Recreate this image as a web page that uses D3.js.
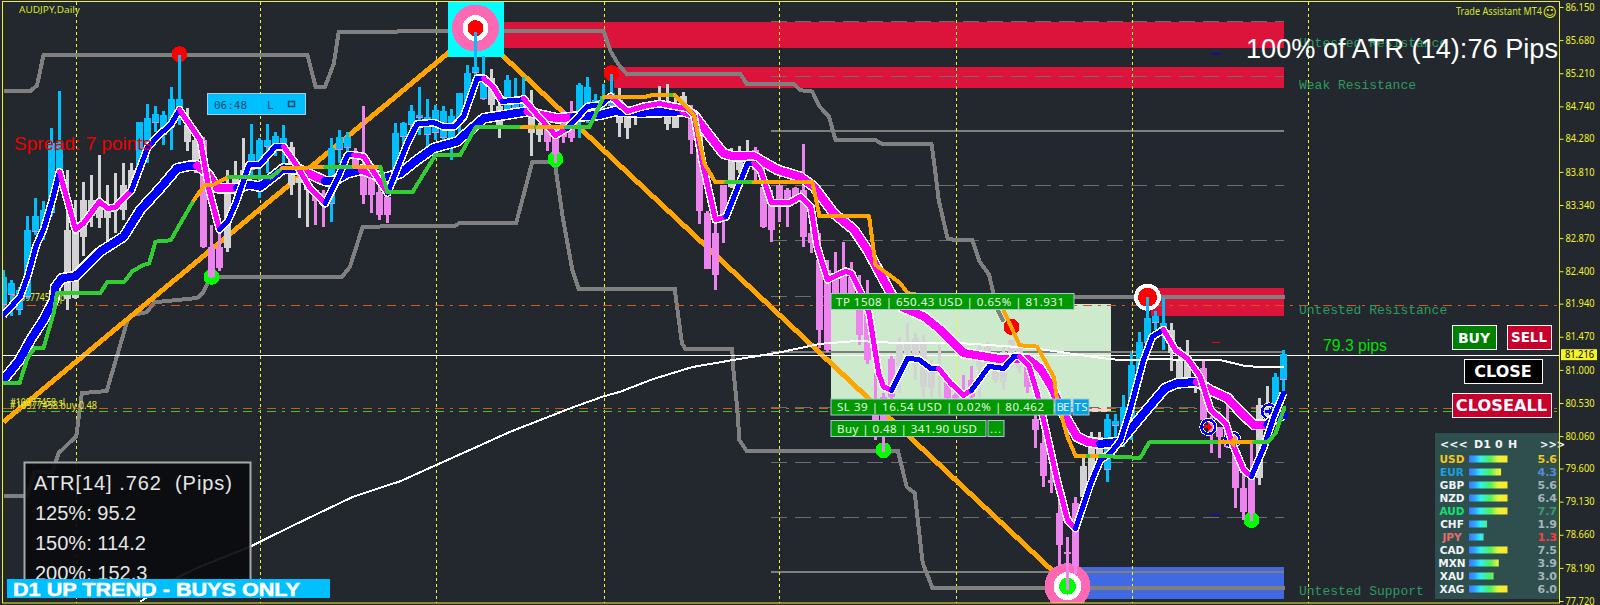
<!DOCTYPE html>
<html><head><meta charset="utf-8">
<style>html,body{margin:0;padding:0;background:#22282d;overflow:hidden}svg{display:block}</style>
<script src="https://cdn.jsdelivr.net/npm/d3@7"></script></head><body><div id="c"></div>
<script>
const yTicks=[86.15,85.68,85.21,84.74,84.28,83.81,83.34,82.87,82.40,81.94,81.47,81.00,80.53,80.06,79.60,79.13,78.66,78.19,77.72];
const lastPrice=81.216;
const candleStates=("uuuuuuuu nnnnnnnnn uuuuuu nn ddd nnn uuuuu nnn dd uuu ddddd uuuuuuuuuuuu nn uuu nn dddd uuuuu nnnnnnnnn ddddd nnn dddddddddddddddddd nnnnnn dddd nnnnnn ddddddd nnn uuuuuuuu nnnn ddddddd nn uu").replace(/ /g,"");
const candleHigh=[82.42,82.28,82.18,83.18,83.44,83.39,84.43,84.96,83.84,83.41,83.66,83.77,84.05,83.63,83.79,83.93,83.93,84.52,84.78,84.74,84.67,85.01,85.47,84.71,84.45,84.31,83.06,82.96,83.84,83.96,84.29,84.49,84.29,84.49,84.38,84.48,84.24,83.74,83.74,83.55,83.55,84.29,84.41,84.38,84.15,84.74,83.84,83.67,83.53,84.5,
84.52,84.76,85.01,84.85,84.76,84.74,84.7,84.93,85.33,85.8,85.45,85.27,84.83,85.19,85.14,85.16,84.97,84.5,84.5,84.45,84.69,84.82,85.07,85.15,84.92,85.06,85.2,85.0,84.74,84.76,84.78,84.81,85.03,85.06,84.9,84.94,84.76,84.48,83.25,83.2,83.63,84.15,84.18,84.26,84.17,83.93,83.55,83.63,83.58,83.6,
84.21,82.99,82.94,82.56,82.68,82.82,82.53,82.34,82.28,81.19,80.67,81.19,81.47,81.66,81.52,81.5,81.14,81.35,80.9,80.67,80.93,81.05,81.38,81.4,81.26,81.33,81.43,81.33,81.14,80.57,80.29,79.96,79.44,78.63,79.2,79.77,80.12,80.12,80.38,80.38,80.64,81.24,81.54,82.04,81.83,82.02,81.66,81.33,81.43,80.9,81.14,80.34,80.19,80.5,80.12,79.56,79.96,80.6,80.77,80.96,81.28];
const candleLow=[81.8,81.76,81.78,82.0,82.91,82.84,83.18,83.6,81.85,82.0,82.61,83.03,83.01,82.8,82.94,83.13,83.55,83.79,83.93,84.38,84.19,84.12,84.48,84.1,83.79,82.73,82.3,82.4,82.68,83.46,83.7,83.74,83.44,83.79,84.03,83.93,83.48,83.15,83.03,83.06,83.03,83.1,83.93,84.0,83.79,83.36,83.22,83.13,83.08,83.65,
84.03,84.36,84.33,84.15,84.26,84.22,83.98,84.36,84.64,85.11,84.83,84.62,84.29,84.59,84.62,84.59,84.04,84.24,84.1,83.93,84.22,84.23,84.29,84.5,84.59,84.67,84.69,84.31,84.27,84.48,84.59,84.62,84.6,84.4,84.43,84.59,84.07,83.07,82.43,82.14,82.8,83.58,83.79,83.89,83.7,83.01,82.82,83.1,83.03,83.36,
82.75,82.66,81.31,81.25,82.03,82.02,82.0,81.35,81.09,80.0,79.84,80.57,80.67,81.14,80.86,80.62,80.62,80.62,80.57,80.57,80.57,80.6,80.62,80.9,80.81,80.72,81.14,80.95,80.67,79.89,79.34,79.25,78.21,77.88,78.11,79.15,79.39,79.58,79.41,79.82,79.91,80.0,80.76,81.14,81.57,81.28,80.98,80.83,80.86,80.67,80.24,79.82,79.75,79.89,79.04,78.87,78.85,79.37,80.29,80.29,80.69];
const bodyTop=[82.32,82.23,82.13,82.99,83.18,83.27,84.22,84.22,82.99,82.99,83.41,83.41,83.41,83.27,83.36,83.63,83.84,84.52,84.57,84.63,84.62,84.85,84.85,84.48,84.26,84.26,82.75,82.75,83.51,83.74,83.84,84.07,84.26,84.26,84.32,84.29,84.17,83.72,83.67,83.55,83.51,84.15,84.31,84.31,84.07,83.79,83.79,83.53,83.46,84.36,
84.5,84.67,84.62,84.59,84.69,84.67,84.6,84.93,85.21,85.3,85.16,85.14,84.74,85.11,84.83,84.88,84.64,84.43,84.43,84.31,84.62,84.55,85.04,85.02,84.83,84.88,84.93,84.83,84.67,84.74,84.76,84.76,84.78,84.81,84.76,84.88,84.64,84.36,83.22,82.94,83.63,83.98,83.98,84.1,84.12,83.6,83.34,83.63,83.55,83.58,
83.55,82.94,82.56,82.42,82.3,82.42,82.32,82.1,81.8,80.38,80.62,81.16,81.35,81.4,81.45,81.4,80.98,81.05,80.83,80.64,80.72,80.86,81.26,81.33,81.14,81.26,81.42,81.31,81.05,80.31,79.96,79.44,78.97,78.42,79.11,79.63,80.05,80.05,80.31,80.27,80.48,81.07,81.4,81.74,81.77,81.66,81.57,81.16,81.14,80.86,81.02,80.27,80.19,80.12,79.86,79.32,79.46,80.5,80.5,80.9,81.23];
const bodyBottom=[81.92,82.06,81.85,82.04,82.96,82.99,83.22,83.84,82.0,82.02,82.89,83.18,83.15,83.15,83.27,83.27,83.6,83.84,84.12,84.5,84.33,84.45,84.71,84.24,83.89,82.75,82.32,82.44,82.73,83.51,83.77,83.84,83.89,84.17,84.17,84.17,83.63,83.65,83.55,83.39,83.36,83.36,84.12,84.15,83.89,83.48,83.48,83.2,83.2,83.79,
84.31,84.48,84.57,84.33,84.36,84.29,84.26,84.5,84.78,85.21,84.85,84.76,84.45,84.64,84.71,84.64,84.36,84.33,84.23,84.07,84.31,84.29,84.57,84.59,84.64,84.74,84.74,84.5,84.43,84.64,84.64,84.64,84.62,84.49,84.43,84.64,84.26,83.25,82.43,82.35,83.18,83.6,83.84,83.93,83.84,83.03,82.99,83.41,83.32,83.46,
82.89,82.8,81.57,81.28,82.06,82.06,82.09,81.5,81.14,80.15,80.05,80.62,81.05,81.24,81.07,80.76,80.74,80.95,80.6,80.6,80.6,80.62,81.05,81.02,80.86,80.83,81.16,81.02,80.76,80.15,79.49,79.39,78.52,78.39,78.21,79.2,79.44,79.72,79.58,80.2,80.0,80.29,80.86,81.38,81.66,81.57,81.24,80.86,80.88,80.76,80.29,80.1,80.05,79.91,79.32,78.99,78.97,79.46,80.31,80.38,80.86];
const fastLine=[[0,81.78,"b"],[2.1,82.04,"b"],[3,82.32,"b"],[4.1,82.77,"b"],[5,82.99,"b"],[6.1,83.41,"b"],[7,83.81,"m"],[9,82.99,"m"],[10,83.08,"m"],[12,83.39,"m"],[13,83.29,"m"],[14,83.31,"m"],[16,83.55,"b"],[18,84.15,"b"],[19.2,84.31,"b"],[20.9,84.48,"b"],[22,84.69,"m"],[24.6,84.26,"m"],[25.7,83.55,"m"],[27,82.99,"b"],[28,83.1,"b"],[29,83.36,"b"],[30.7,83.91,"b"],[32,83.91,"b"],[34,84.17,"b"],[35,84.17,"m"],[36.5,83.93,"m"],[38.2,83.6,"m"],[40.2,83.36,"b"],[41.7,83.7,"b"],[43,84.05,"b"],[43.8,84.05,"m"],[45,84.03,"m"],[48,83.51,"b"],[50.5,84.22,"b"],[51.7,84.49,"b"],[53.8,84.51,"b"],[55,84.45,"b"],[56.3,84.45,"b"],[57.5,84.59,"b"],[59.2,85.14,"b"],[60,85.14,"m"],[61.3,85.0,"m"],[62.3,84.81,"b"],[64.6,84.83,"b"],[65,84.85,"m"],[66.7,84.62,"m"],[69,84.33,"m"],[70.5,84.43,"b"],[73,84.74,"b"],[74.6,84.76,"b"],[75.9,84.88,"m"],[78,84.67,"m"],[80,84.74,"m"],[82,84.78,"m"],[83.8,84.74,"m"],[85.5,84.71,"m"],[86.3,84.62,"m"],[87.3,83.98,"m"],[89,83.13,"m"],[90.3,83.17,"b"],[93,83.93,"b"],[93.8,83.93,"m"],[94.6,83.84,"m"],[96,83.37,"m"],[98.2,83.37,"m"],[99.6,83.46,"m"],[100.9,83.32,"m"],[101.7,82.75,"m"],[103,82.28,"m"],[105.3,82.4,"m"],[106,82.37,"m"],[107.6,82.0,"m"],[108.2,81.8,"m"],[109.4,80.95,"m"],[110,80.76,"m"],[111,80.71,"b"],[113,81.16,"b"],[114.4,81.15,"b"],[115.9,81.02,"b"],[116.9,81.02,"m"],[118.4,80.81,"m"],[120,80.64,"m"],[121,80.71,"b"],[123.2,81.05,"b"],[125,81.02,"b"],[126.3,81.19,"b"],[127,81.19,"m"],[128.2,81.05,"m"],[129.2,80.67,"m"],[130.3,80.15,"m"],[131.7,79.44,"m"],[133,78.87,"m"],[134,78.75,"b"],[135.9,79.39,"b"],[137.1,79.72,"b"],[138.4,79.82,"b"],[139.6,80.0,"b"],[140.7,80.38,"b"],[142.5,81.14,"b"],[143.6,81.47,"b"],[145,81.57,"m"],[146.5,81.28,"m"],[148,81.16,"m"],[149.6,80.9,"m"],[150.9,80.43,"m"],[152.8,80.24,"m"],[153.6,79.96,"m"],[155,79.58,"m"],[156,79.49,"b"],[157.5,79.89,"b"],[158.8,80.34,"b"],[160,80.67,"b"]];
const slowLine=[[0,80.86,"b"],[2,81.14,"b"],[3.4,81.43,"b"],[5,81.71,"b"],[6.3,81.99,"b"],[6.5,82.18,"b"],[7.3,82.3,"b"],[9,82.33,"b"],[12.1,82.68,"b"],[15,82.89,"b"],[17.1,83.27,"b"],[19.6,83.58,"b"],[21.7,83.86,"b"],[23.4,83.9,"b"],[24.2,83.9,"m"],[25.5,83.79,"m"],[26.7,83.58,"m"],[29.2,83.58,"b"],[30.7,83.63,"b"],[32.1,83.6,"b"],[35,83.86,"b"],[37.1,83.84,"m"],[40.2,83.68,"b"],[41.3,83.68,"b"],[43,83.79,"b"],[44.8,83.84,"m"],[47.5,83.72,"b"],[49.6,83.79,"b"],[51.7,83.98,"b"],[53.8,84.15,"b"],[56.7,84.24,"b"],[58.6,84.43,"b"],[60,84.57,"b"],[65.5,84.67,"m"],[67.1,84.62,"m"],[69.2,84.57,"m"],[71.3,84.59,"b"],[74.6,84.62,"b"],[76.3,84.67,"b"],[79.6,84.65,"b"],[85,84.67,"m"],[86.3,84.62,"m"],[88,84.36,"m"],[90,84.07,"m"],[91.3,84.03,"m"],[93.8,84.03,"m"],[96.7,83.84,"m"],[99.6,83.74,"m"],[101.3,83.6,"m"],[103.8,83.22,"m"],[106.3,82.99,"m"],[108,82.7,"m"],[110.9,82.09,"m"],[112.1,81.9,"m"],[115,81.76,"m"],[117.1,81.57,"m"],[120,81.24,"m"],[124.2,81.16,"m"],[128,81.16,"m"],[129.6,81.02,"m"],[131,80.76,"m"],[132.5,80.38,"m"],[134.2,80.05,"m"],[135.5,79.98,"m"],[137.1,79.95,"b"],[139.6,79.98,"b"],[142.5,80.38,"b"],[145.2,80.74,"b"],[146.7,80.81,"b"],[149.2,80.83,"m"],[150.9,80.71,"m"],[153,80.6,"m"],[154.8,80.38,"m"],[156.3,80.22,"m"],[158,80.22,"b"],[158.8,80.31,"b"],[160,80.36,"b"]];
const stepLine=[[0,80.81,"g"],[2,80.81,"g"],[3,81.17,"g"],[3.9,81.31,"g"],[5,81.31,"g"],[6.3,81.82,"g"],[6.7,82.09,"g"],[12.1,82.09,"g"],[13,82.25,"g"],[15.1,82.25,"g"],[16.1,82.4,"g"],[17.5,82.49,"g"],[18.2,82.51,"g"],[19,82.82,"g"],[20.9,82.84,"g"],[23.8,83.41,"o"],[25.1,83.62,"o"],[26.3,83.63,"o"],[28.2,83.74,"g"],[33.4,83.73,"g"],[34.8,83.86,"o"],[40.2,83.88,"g"],[43.8,83.88,"o"],[47.1,83.88,"g"],[48,83.52,"g"],[51.1,83.52,"g"],[54,84.05,"g"],[57.1,84.05,"g"],[59,84.44,"g"],[64.8,84.44,"o"],[66.5,84.44,"g"],[66.8,84.44,"o"],[70.3,84.44,"g"],[73.2,84.44,"g"],[75,84.87,"o"],[80.5,84.88,"o"],[81,84.9,"o"],[83.4,84.9,"g"],[83.9,84.9,"o"],[86.3,84.62,"o"],[87.6,83.93,"o"],[89,83.66,"o"],[90.3,83.66,"g"],[93.8,83.66,"o"],[99.6,83.66,"o"],[101.1,83.67,"o"],[102,83.18,"o"],[108.2,83.18,"o"],[109,82.49,"o"],[112.1,82.23,"o"],[113,82.09,"o"],[115,82.05,"o"],[124.5,82.0,"o"],[125,81.85,"o"],[127,81.35,"o"],[129.2,81.33,"o"],[131.3,80.9,"o"],[131.7,80.57,"o"],[133,80.05,"o"],[134,79.78,"o"],[135.5,79.78,"g"],[136,79.78,"o"],[137.1,79.78,"g"],[142.1,79.75,"g"],[143.2,79.97,"g"],[152,79.97,"o"],[156.3,79.97,"g"],[158,79.97,"g"],[159,80.1,"g"],[160.1,80.46,"g"]];
const zigzag=[[0,80.26],[59,85.82],[133,77.95]];
const upperChannel=[[0,84.96],[3.4,84.96],[4.2,85.04],[5,85.47],[38,85.47],[39,85.02],[40.2,85.02],[41.3,85.35],[41.9,85.8],[75,85.81],[75.9,85.52],[76.9,85.33],[77.9,85.2],[92.1,85.2],[92.9,85.06],[98.8,85.06],[99.6,84.97],[101.1,84.95],[102,84.74],[103.2,84.59],[104,84.26],[109,84.26],[109.8,84.21],[116,84.21],[116.5,83.79],[116.9,83.41],[118,82.87],[119,82.84],[121.1,82.84],[122,82.54],[123.2,82.35],[123.8,82.06],[124.3,81.85],[125,81.68]];
const upperTail=[[127,82.03],[160.2,82.03]];
const lowerChannel=[[0,79.21],[2.9,79.21],[3.9,79.55],[6.1,79.55],[6.9,79.82],[9.1,80.06],[9.8,80.67],[12.9,80.7],[15.6,81.74],[16.2,81.78],[17.9,81.82],[18.9,81.96],[24.2,82.02],[24.9,82.09],[25.9,82.32],[42.3,82.32],[43.3,82.46],[44.9,83.03],[49.6,83.04],[56.4,83.04],[57.1,83.09],[64.1,83.09],[66.1,83.95],[68.9,83.95],[69.9,83.17],[71.1,82.42],[71.9,82.15],[83.9,82.15],[84.2,81.89],[84.8,81.38],[85.2,81.3],[91.1,81.3],[91.2,81.04],[91.7,80.47],[92,80.0],[92.9,79.85],[111.8,79.85],[112.9,79.34],[113.9,79.25],[114.9,78.26],[116.1,77.91],[160.2,77.91]];
const longMA=[[17.1,77.71],[21.7,78.05],[24.2,78.19],[30.8,78.49],[35.8,78.77],[43.7,79.2],[49.6,79.42],[53.9,79.64],[59.6,79.93],[63.3,80.12],[71.2,80.47],[74.9,80.62],[77.1,80.69],[81.2,80.87],[86.1,81.04],[91.2,81.14],[97.1,81.25],[102.1,81.37],[106.7,81.41],[112.1,81.38],[119.6,81.38],[128.7,81.31],[137.1,81.17],[139.6,81.14],[144,81.15],[152.1,81.14],[155,81.06],[157,81.04],[160,81.04]];
const dateSeparators=[9,32,54,75,97,119,141,163];
const levelSolid=[84.39,81.25,78.13];
const levelDashed=[85.94,85.16,83.61,82.83,82.04,80.47,79.69,78.91];
const zonesRed=[[62.5,85.94,85.57],[76.25,85.30,85.0],[143.4,82.16,81.77]];
const zonesBlue=[[132.1,78.2,77.75]];
const redDots=[[22,85.48],[76,85.21],[126,81.61]];
const greenDots=[[26,82.32],[69,83.99],[110,79.86],[156,78.87]];
const tradeLevels={tp:81.931,sl:80.462,entry:80.42};
const currencies=["USD","EUR","GBP","NZD","AUD","CHF","JPY","CAD","MXN","XAU","XAG"];
const strengths=[5.6,4.3,5.6,6.4,7.7,1.9,1.3,7.5,3.9,3.0,6.0];
const nameColors=["#f7c61c","#1c9fe0","#f0f4f6","#f0f4f6","#14e070","#f0f4f6","#e86c6c","#f0f4f6","#f0f4f6","#f0f4f6","#f0f4f6"];
const valueColors=["#f7c61c","#5a8ad8","#a8b4b8","#a8b4b8","#3c9a6c","#a8b4b8","#ff3c3c","#a8b4b8","#a8b4b8","#a8b4b8","#a8b4b8"];

const W=1600,H=605;
const svg=d3.select("#c").append("svg").attr("width",W).attr("height",H);
svg.append("rect").attr("width",W).attr("height",H).attr("fill","#22282d");
const x=d3.scaleLinear().domain([0,160]).range([3.5,1283.5]);
const y=d3.scaleLinear().domain([86.15,77.72]).range([7,601]);
const line=d3.line().x(d=>x(d[0])).y(d=>y(d[1]));
const SANS="'Liberation Sans',Arial,sans-serif", UI="'Noto Sans',sans-serif", BOLD="'DejaVu Sans',sans-serif", MONO="'Liberation Mono',monospace";
const plot=svg.append("g").attr("shape-rendering","crispEdges");
svg.append("clipPath").attr("id","pc").append("rect").attr("x",3).attr("y",2).attr("width",1556).attr("height",601);
plot.attr("clip-path","url(#pc)");

// trade rectangle
const rx0=830.5,rx1=1111;
plot.append("rect").attr("x",rx0).attr("y",y(tradeLevels.tp)).attr("width",rx1-rx0).attr("height",y(tradeLevels.sl)-y(tradeLevels.tp)).attr("fill","#cdeacd");
plot.append("rect").attr("x",rx0).attr("y",y(tradeLevels.sl)).attr("width",rx1-rx0).attr("height",y(tradeLevels.entry)-y(tradeLevels.sl)+1).attr("fill","#ffcfcf");

// supply / demand zones
plot.selectAll(".zr").data(zonesRed).join("rect").attr("x",d=>x(d[0])).attr("y",d=>y(d[1])).attr("width",d=>x(160)-x(d[0])).attr("height",d=>y(d[2])-y(d[1])).attr("fill","#dc143c");
plot.selectAll(".zb").data(zonesBlue).join("rect").attr("x",d=>x(d[0])).attr("y",d=>y(d[1])).attr("width",d=>x(160)-x(d[0])).attr("height",d=>y(d[2])-y(d[1])).attr("fill","#4169e1");

// horizontal levels
const lx0=771;
plot.selectAll(".ls").data(levelSolid).join("line").attr("x1",lx0).attr("x2",1284).attr("y1",d=>y(d)).attr("y2",d=>y(d)).attr("stroke","#7f7f7f").attr("stroke-width",2);
plot.selectAll(".ld").data(levelDashed).join("line").attr("x1",lx0).attr("x2",1284).attr("y1",d=>y(d)).attr("y2",d=>y(d)).attr("stroke","#6e6e6e").attr("stroke-width",1).attr("stroke-dasharray","16 8");

// separators
plot.selectAll(".sep").data(dateSeparators).join("line").attr("x1",d=>Math.round(x(d))+.5).attr("x2",d=>Math.round(x(d))+.5).attr("y1",2).attr("y2",603).attr("stroke","#f4f22a").attr("stroke-width",1).attr("stroke-dasharray","3 3");

// channels + zigzag
[upperChannel,upperTail,lowerChannel].forEach(c=>plot.append("path").attr("d",line(c)).attr("fill","none").attr("stroke","#808080").attr("stroke-width",4));
plot.append("path").attr("d",line(zigzag)).attr("fill","none").attr("stroke","#ffa500").attr("stroke-width",5);

// dash-dot trade lines
[[tradeLevels.tp-0.005,"#d9541e"],[tradeLevels.sl+0.002,"#d9541e"],[tradeLevels.entry,"#32cd32"]].forEach(([v,c])=>plot.append("line").attr("x1",3).attr("x2",1559).attr("y1",Math.round(y(v))+.5).attr("y2",Math.round(y(v))+.5).attr("stroke",c).attr("stroke-width",1).attr("stroke-dasharray","9 6 3 6"));
plot.append("line").attr("x1",3).attr("x2",1559).attr("y1",Math.round(y(lastPrice))+.5).attr("y2",Math.round(y(lastPrice))+.5).attr("stroke","#ffffff").attr("stroke-width",1);

// order labels (under the lines)
const lab=(t,xx,yy,l)=>plot.append("text").attr("x",xx).attr("y",yy).attr("fill","#e8e82c").attr("font-family",UI).attr("font-size",10).attr("textLength",l).attr("lengthAdjust","spacingAndGlyphs").text(t);
lab("#10977458 tp",10,301,55);lab("#10977458 sl",10,406,55);lab("#10977458 buy 0.48",10,409,87);

// markers under the candles
const tTop=plot.append("g").attr("transform",`translate(${x(59)},${y(85.85)})`);
tTop.append("rect").attr("x",-28).attr("y",-27).attr("width",56).attr("height",56).attr("fill","#00ffff");
[[23.5,"#ff69b4"],[13,"#ffffff"],[8,"#ff0000"]].forEach(([r,c])=>tTop.append("circle").attr("r",r).attr("fill",c));
const tBot=plot.append("g").attr("transform",`translate(${x(133)},${y(77.93)})`);
[[23,"#ff69b4"],[14,"#ffffff"],[8.5,"#00ff00"]].forEach(([r,c])=>tBot.append("circle").attr("r",r).attr("fill",c));
const tRing=plot.append("g").attr("transform",`translate(${x(143)},${y(82.03)})`);
[[13.5,"#ffffff"],[9.5,"#ff0000"]].forEach(([r,c])=>tRing.append("circle").attr("r",r).attr("fill",c));
plot.selectAll(".rd").data(redDots).join("circle").attr("cx",d=>x(d[0])).attr("cy",d=>y(d[1])).attr("r",8).attr("fill","#ff0000");
plot.selectAll(".gd").data(greenDots).join("circle").attr("cx",d=>x(d[0])).attr("cy",d=>y(d[1])).attr("r",8).attr("fill","#00ff00");

// candles
const candles=d3.range(candleHigh.length).map(i=>({i,h:candleHigh[i],l:candleLow[i],t:bodyTop[i],b:bodyBottom[i],s:candleStates[i]}));
const cCol={u:"#00bfff",d:"#ee82ee",n:"#d3d3d3"};
const cg=plot.append("g");
cg.selectAll(".w").data(candles).join("rect").attr("x",d=>x(d.i)-1.5).attr("width",3).attr("y",d=>y(d.h)).attr("height",d=>y(d.l)-y(d.h)).attr("fill",d=>cCol[d.s]);
cg.selectAll(".b").data(candles).join("rect").attr("x",d=>x(d.i)-3.5).attr("width",7).attr("y",d=>y(d.t)).attr("height",d=>Math.max(1,y(d.b)-y(d.t))).attr("fill",d=>cCol[d.s]);
cg.selectAll(".m").data(candles.filter(d=>d.s==="u")).join("rect").attr("x",d=>x(d.i)-3.5).attr("width",7).attr("y",d=>y(d.b)-1).attr("height",1).attr("fill","#ee82ee");

// long MA
plot.append("path").attr("d",line(longMA)).attr("fill","none").attr("stroke","#ffffff").attr("stroke-width",2);

// small signal marks
const ring=(b,p,dir,c)=>{const g=plot.append("g").attr("transform",`translate(${x(b)},${y(p)})`);
  g.append("circle").attr("r",7).attr("fill","none").attr("stroke","#fff").attr("stroke-width",4);
  g.append("circle").attr("r",7).attr("fill","none").attr("stroke","#0000ff").attr("stroke-width",2.5);
  if(dir)g.append("path").attr("d","M-4,-1.5H0V-4L4,0L0,4V1.5H-4Z").attr("fill",c);};
ring(150.6,80.19,1,"#ff0000");ring(153.6,80.01,0);ring(158.2,80.41,1,"#0000ff");

function runs(pts){const out=[];let cur=null;for(let k=0;k<pts.length-1;k++){const c=pts[k][2];if(!cur||cur.c!==c){cur={c,p:[pts[k]]};out.push(cur);}cur.p.push(pts[k+1]);}return out;}
const bandCol={b:"#0000ff",m:"#ff00ff",g:"#32cd32",o:"#ffa500"};
function band(pts,w,halo){
  if(halo)plot.append("path").attr("d",line(pts)).attr("fill","none").attr("stroke","#fff").attr("stroke-width",w+halo).attr("stroke-linejoin","round");
  runs(pts).forEach(r=>plot.append("path").attr("d",line(r.p)).attr("fill","none").attr("stroke",bandCol[r.c]).attr("stroke-width",w).attr("stroke-linejoin","round").attr("stroke-linecap","round"));
}
band(slowLine,8,3);
band(fastLine,5,3);
band(stepLine,4,0);
plot.append("path").attr("d",`M${x(153.2)},${y(79.98)}l6,-7v14z`).attr("fill","#ffa500");
[[151,85.5,"#0000ff"],[151,81.39,"#ff0000"],[151,78.94,"#0000ff"]].forEach(([b,p,c])=>plot.append("rect").attr("x",x(b)).attr("y",y(p)).attr("width",8).attr("height",1).attr("fill",c));

// labels in plot
const T=(t,xx,yy,o)=>{const e=svg.append("text").attr("x",xx).attr("y",yy).attr("xml:space","preserve").style("white-space","pre").text(t);
  Object.entries(o).forEach(([k,v])=>e.attr(k,v));return e;};
T("Untested Resistance",1299,47,{"font-family":MONO,"font-size":13,fill:"#2e9b60"});
T("Weak Resistance",1299,89,{"font-family":MONO,"font-size":13,fill:"#2e9b60"});
T("Untested Resistance",1299,314,{"font-family":MONO,"font-size":13,fill:"#2e9b60"});
T("Untested Support",1299,595,{"font-family":MONO,"font-size":13,fill:"#2e9b60"});
T("100% of ATR (14):76 Pips",1246,58,{"font-family":SANS,"font-size":28,fill:"#ffffff",textLength:312,lengthAdjust:"spacingAndGlyphs"});
T("79.3 pips",1323,351,{"font-family":SANS,"font-size":16.5,fill:"#00e000",textLength:64,lengthAdjust:"spacingAndGlyphs"});
T("Spread: 7 points",14,150,{"font-family":SANS,"font-size":19,fill:"#ee0000",textLength:138,lengthAdjust:"spacingAndGlyphs"});
T("AUDJPY,Daily",19,13,{"font-family":UI,"font-size":9.5,fill:"#d4e630",textLength:61,lengthAdjust:"spacingAndGlyphs"});
T("Trade Assistant MT4",1456,14.5,{"font-family":UI,"font-size":10.5,fill:"#d4e630",textLength:86,lengthAdjust:"spacingAndGlyphs"});
T("☺",1542.5,16.5,{"font-family":"'DejaVu Sans'","font-size":14,fill:"#e8e82c"});

// timer
svg.append("rect").attr("x",207.5).attr("y",93.5).attr("width",98).attr("height",21).attr("fill","#00bfff").attr("stroke","#a6cfe6");
T("06:48",214,109,{"font-family":"'DejaVu Sans Mono'","font-size":11,fill:"#1c4a6a"});
T("L",267,109,{"font-family":"'DejaVu Sans Mono'","font-size":11,fill:"#1c4a6a"});
svg.append("rect").attr("x",288.5).attr("y",101.5).attr("width",6).attr("height",5).attr("fill","none").attr("stroke","#1c4a6a").attr("stroke-width",1.5);

// ATR box
svg.append("rect").attr("x",24.5).attr("y",462.5).attr("width",226).attr("height",125).attr("fill","#0a0c0e").attr("fill-opacity",.93).attr("stroke","#a9a9a9").attr("stroke-width",2);
T("ATR[14] .762  (Pips)",34,490,{"font-family":SANS,"font-size":20,fill:"#e6e6e6",textLength:198});
T("125%: 95.2",35,520,{"font-family":SANS,"font-size":20,fill:"#e6e6e6"});
T("150%: 114.2",35,550,{"font-family":SANS,"font-size":20,fill:"#e6e6e6"});
T("200%: 152.3",35,580,{"font-family":SANS,"font-size":20,fill:"#e6e6e6"});
svg.append("rect").attr("x",7).attr("y",579).attr("width",323).attr("height",19).attr("fill","#00bfff");
T("D1 UP TREND - BUYS ONLY",13,595.5,{"font-family":SANS,"font-weight":"bold","font-size":19,fill:"#ffffff",textLength:287,lengthAdjust:"spacingAndGlyphs",stroke:"#ffffff","stroke-width":.5});

// trade labels
const tag=(xx,yy,w,h,c,t,tx,tl)=>{svg.append("rect").attr("x",xx+.5).attr("y",yy+.5).attr("width",w).attr("height",h).attr("fill",c).attr("stroke","#a5c9d6");
  T(t,tx,yy+h-3.5,{"font-family":UI,"font-size":11.5,fill:"#e6f5e6",...(tl?{textLength:tl}:{})});};
tag(830.5,293,243,16,"#009900","TP 1508 | 650.43 USD | 0.65% | 81.931",836,228);
tag(830.5,398.5,223,16,"#009900","SL 39 | 16.54 USD | 0.02% | 80.462",837,207);
tag(1054.5,398.5,16,16,"#00a2e8","BE",1056.5,13);
tag(1072.5,398.5,16,16,"#00a2e8","TS",1074.5,13);
tag(830.5,420,155,16,"#009900","Buy | 0.48 | 341.90 USD",837,140);
tag(987.5,420,16,16,"#009900","...",990,11);

// buttons
const btn=(xx,yy,w,h,c,t,fs)=>{svg.append("rect").attr("x",xx+.5).attr("y",yy+.5).attr("width",w).attr("height",h).attr("fill",c).attr("stroke","#fff");
  T(t,xx+w/2,yy+h/2+fs*.36+.5,{"font-family":BOLD,"font-weight":"bold","font-size":fs,fill:"#fff","text-anchor":"middle"});};
btn(1452,325,44,24,"#008000","BUY",14);
btn(1507,325,44,24,"#c8002c","SELL",13.4);
btn(1464,359,78,24,"#000000","CLOSE",16);
btn(1452,393,99,24,"#c8002c","CLOSEALL",16.2);

// strength panel
svg.append("rect").attr("x",1435).attr("y",433).attr("width",124).attr("height",166).attr("fill","#2f4f4f");
const hdr={"font-family":BOLD,"font-weight":"bold","font-size":11,fill:"#f0f4f6"};
T("<<<",1440,448,hdr);T("D1",1474,448,hdr);T("0",1495,448,hdr);T("H",1508,448,hdr);T(">>>",1540,448,{...hdr,"font-size":10});
const defs=svg.append("defs");
const grad=defs.append("linearGradient").attr("id","sg").attr("gradientUnits","userSpaceOnUse").attr("x1",1469).attr("x2",1507.5).attr("y1",0).attr("y2",0);
[[0,"#3a78ff"],[.16,"#2fa8ff"],[.3,"#2ff0f0"],[.55,"#4cf05c"],[.75,"#e4f23a"],[1,"#ffe62a"]].forEach(([o,c])=>grad.append("stop").attr("offset",o).attr("stop-color",c));
const barW=d3.scaleLinear().domain([0,5.4]).range([7,38.5]).clamp(true);
const rowY=d3.scalePoint().domain(currencies).range([459,589]);
const pg=svg.append("g");
pg.selectAll("rect").data(currencies).join("rect").attr("x",1469).attr("y",d=>rowY(d)-3.5).attr("width",(d,i)=>barW(strengths[i])).attr("height",7).attr("fill","url(#sg)");
pg.selectAll("text.n").data(currencies).join("text").attr("class","n").attr("x",1452).attr("y",d=>rowY(d)+4).attr("text-anchor","middle").attr("font-family",BOLD).attr("font-weight","bold").attr("font-size",10.5).attr("fill",(d,i)=>nameColors[i]).text(d=>d);
pg.selectAll("text.v").data(strengths).join("text").attr("class","v").attr("x",1557).attr("y",(d,i)=>rowY(currencies[i])+4).attr("text-anchor","end").attr("font-family",BOLD).attr("font-weight","bold").attr("font-size",11).attr("fill",(d,i)=>valueColors[i]).text(d=>d.toFixed(1));

// axis
const ax=d3.axisRight(y).tickValues(yTicks).tickFormat(d3.format(".3f")).tickSize(4).tickPadding(2);
const ag=svg.append("g").attr("transform","translate(1559.5,0)").call(ax);
ag.select(".domain").remove();
ag.selectAll("line").attr("stroke","#f4f22a");
ag.selectAll("text").attr("fill","#f4f22a").attr("font-family",UI).attr("font-size",10).attr("textLength",29).attr("lengthAdjust","spacingAndGlyphs");
// frame
svg.append("rect").attr("x",2.5).attr("y",1.5).attr("width",1557).attr("height",601.5).attr("fill","none").attr("stroke","#f4f22a").attr("stroke-width",1);
// price tag
svg.append("rect").attr("x",1561).attr("y",y(lastPrice)-5.5).attr("width",36).attr("height",11).attr("fill","#f4f22a");
T(d3.format(".3f")(lastPrice),1565,y(lastPrice)+3.7,{"font-family":UI,"font-size":10,fill:"#000",textLength:29,lengthAdjust:"spacingAndGlyphs"});
</script></body></html>
